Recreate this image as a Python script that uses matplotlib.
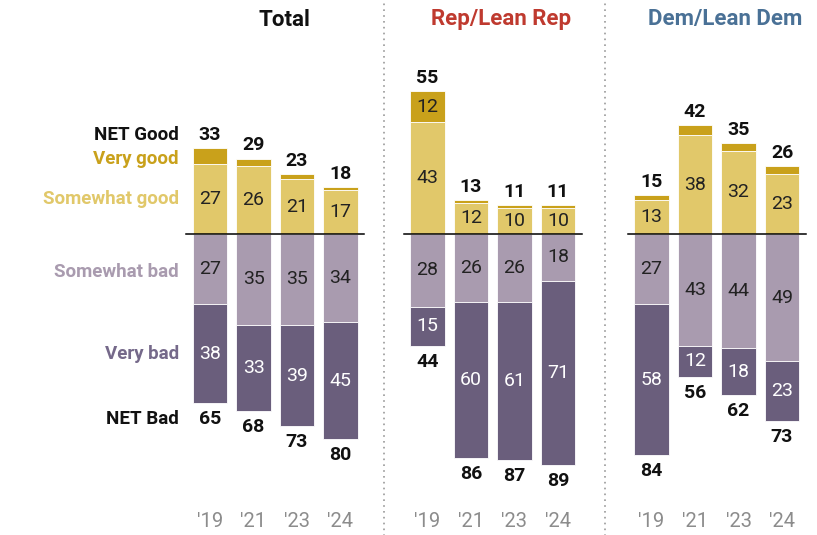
import numpy as np
import matplotlib
matplotlib.use('Agg')
from matplotlib import pyplot as plt

plt.rcParams['font.family'] = ['Roboto', 'DejaVu Sans']

groups = ['Total', 'Rep/Lean Rep', 'Dem/Lean Dem']
years = ["'19", "'21", "'23", "'24"]

very_good = [[6, 3, 2, 1], [12, 1, 1, 1], [2, 4, 3, 3]]
somewhat_good = [[27, 26, 21, 17], [43, 12, 10, 10], [13, 38, 32, 23]]
net_good = [[33, 29, 23, 18], [55, 13, 11, 11], [15, 42, 35, 26]]
somewhat_bad = [[27, 35, 35, 34], [28, 26, 26, 18], [27, 43, 44, 49]]
very_bad = [[38, 33, 39, 45], [15, 60, 61, 71], [58, 12, 18, 23]]
net_bad = [[65, 68, 73, 80], [44, 86, 87, 89], [84, 56, 62, 73]]

c_vgood = '#C9A11B'
c_sgood = '#E1C86A'
c_sbad = '#A99BAF'
c_vbad = '#6A5E7C'
title_colors = ['#111111', '#BF3A2F', '#4A7196']

offsets = [0, 5.0, 10.15]
W = 0.8

fig = plt.figure(figsize=(8.17, 5.35), dpi=100)
ax = fig.add_axes([0, 0, 1, 1])
ax.set_xlim(-210 / 43.5, (817 - 210) / 43.5)
ax.set_ylim(-(535 - 234) / 2.6, 234 / 2.6)
ax.axis('off')

for g in range(3):
    x = offsets[g] + np.arange(4)
    sg = np.array(somewhat_good[g])
    vg = np.array(very_good[g])
    sb = np.array(somewhat_bad[g])
    vb = np.array(very_bad[g])
    ax.bar(x, sg, W, color=c_sgood, edgecolor='white', linewidth=0.6)
    ax.bar(x, vg, W, bottom=sg, color=c_vgood, edgecolor='white', linewidth=0.6)
    ax.bar(x, -sb, W, color=c_sbad, edgecolor='white', linewidth=0.6)
    ax.bar(x, -vb, W, bottom=-sb, color=c_vbad, edgecolor='white', linewidth=0.6)
    ax.plot([x[0] - 0.55, x[-1] + 0.55], [0, 0], color='black', lw=1.1)

    for i in range(4):
        if sg[i] >= 8:
            ax.text(x[i], sg[i] / 2, str(sg[i]), ha='center', va='center',
                    fontsize=14, color='#222222')
        if vg[i] >= 8:
            ax.text(x[i], sg[i] + vg[i] / 2, str(vg[i]), ha='center', va='center',
                    fontsize=14, color='#222222')
        if sb[i] >= 8:
            ax.text(x[i], -sb[i] / 2, str(sb[i]), ha='center', va='center',
                    fontsize=14, color='#222222')
        if vb[i] >= 8:
            ax.text(x[i], -sb[i] - vb[i] / 2, str(vb[i]), ha='center', va='center',
                    fontsize=14, color='white')
        ax.annotate(str(net_good[g][i]), (x[i], sg[i] + vg[i]), xytext=(0, 3),
                    textcoords='offset points', ha='center', va='bottom',
                    fontsize=14, fontweight='bold', color='#111111')
        ax.annotate(str(net_bad[g][i]), (x[i], -sb[i] - vb[i]), xytext=(0, -5),
                    textcoords='offset points', ha='center', va='top',
                    fontsize=14, fontweight='bold', color='#111111')
        ax.text(x[i], -110.5, years[i], ha='center', va='center',
                fontsize=14.5, color='#8C8C8C')

    ax.text(x.mean() + 0.2, 82.5, groups[g], ha='center', va='center',
            fontsize=16, fontweight='bold', color=title_colors[g])

# dotted dividers
for xd in [(offsets[0] + 3 + offsets[1]) / 2, (offsets[1] + 3 + offsets[2]) / 2]:
    ax.plot([xd, xd], [-116, 90], color='#9A9A9A', lw=1.2, ls=(0, (1, 2.5)))

# row labels, next to the Total '19 bar
lx = -0.72
sg0, vg0, sb0, vb0 = somewhat_good[0][0], very_good[0][0], somewhat_bad[0][0], very_bad[0][0]
ax.annotate('NET Good', (lx, sg0 + vg0), xytext=(0, 3), textcoords='offset points',
            ha='right', va='bottom', fontsize=13.5, fontweight='bold', color='#111111')
ax.text(lx, sg0 + vg0 / 2 - 1, 'Very good', ha='right', va='center',
        fontsize=13.5, fontweight='bold', color=c_vgood)
ax.text(lx, sg0 / 2, 'Somewhat good', ha='right', va='center',
        fontsize=13.5, fontweight='bold', color=c_sgood)
ax.text(lx, -sb0 / 2 - 1, 'Somewhat bad', ha='right', va='center',
        fontsize=13.5, fontweight='bold', color=c_sbad)
ax.text(lx, -sb0 - vb0 / 2, 'Very bad', ha='right', va='center',
        fontsize=13.5, fontweight='bold', color='#75698A')
ax.annotate('NET Bad', (lx, -sb0 - vb0), xytext=(0, -5), textcoords='offset points',
            ha='right', va='top', fontsize=13.5, fontweight='bold', color='#111111')

fig.savefig('out.png', dpi=100)
